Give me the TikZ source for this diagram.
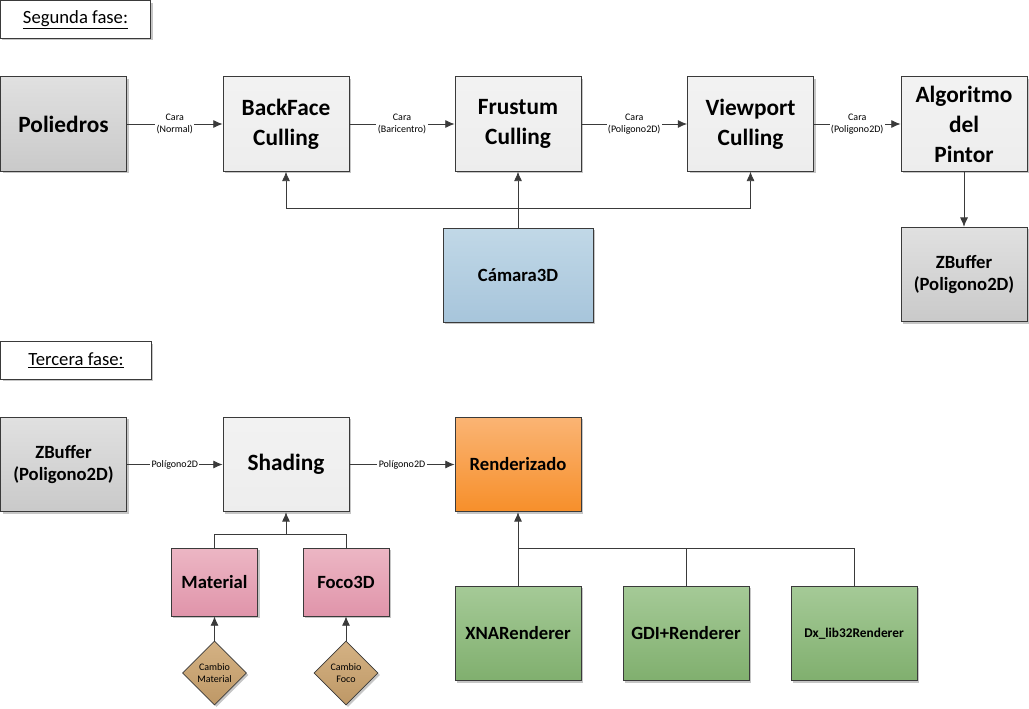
\documentclass[tikz,border=0pt]{standalone}
\usepackage{fontspec}
\setmainfont{Carlito}
\usetikzlibrary{positioning, arrows.meta, shapes.geometric, shadows}
\newcommand{\flecha}{-{Latex[length=7pt,width=6pt]}}
\newcommand{\grande}{\fontsize{17.5}{22.5}\selectfont\bfseries}
\newcommand{\medio}{\fontsize{14}{16.5}\selectfont\bfseries}
\newcommand{\chico}{\fontsize{7.5}{9.5}\selectfont}

\definecolor{linea}{HTML}{3A3A3A}
\tikzset{
  caja/.style={draw=linea, line width=0.6pt, align=center, inner sep=0pt,
    minimum width=94.5pt, minimum height=71pt,
    drop shadow={shadow xshift=1.5pt, shadow yshift=-1.5pt, opacity=0.45}},
  claro/.style={caja, top color=white!95!black, bottom color=white!93!black},
  gris/.style={caja, top color=white!88!black, bottom color=white!79!black},
  azul/.style={caja, top color={rgb,255:red,193;green,216;blue,231}, bottom color={rgb,255:red,167;green,197;blue,219}},
  naranja/.style={caja, top color={rgb,255:red,250;green,180;blue,116}, bottom color={rgb,255:red,247;green,143;blue,42}},
  rosa/.style={caja, top color={rgb,255:red,236;green,182;blue,196}, bottom color={rgb,255:red,224;green,148;blue,170}},
  verde/.style={caja, top color={rgb,255:red,165;green,202;blue,151}, bottom color={rgb,255:red,128;green,175;blue,110}},
  cambio/.style={diamond, draw=linea, line width=0.6pt, align=center, inner sep=0pt,
    minimum size=48pt, font=\chico,
    top color={rgb,255:red,212;green,178;blue,132}, bottom color={rgb,255:red,190;green,152;blue,102},
    drop shadow={shadow xshift=1.5pt, shadow yshift=-1.5pt, opacity=0.45}},
  fase/.style={draw=linea, line width=0.6pt, fill=white, inner sep=0pt,
    minimum width=113pt, minimum height=28pt, font=\fontsize{14}{16}\selectfont,
    drop shadow={shadow xshift=1.5pt, shadow yshift=-1.5pt, opacity=0.45}},
  etiqueta/.style={fill=white, inner sep=1pt, align=center, font=\chico},
  conector/.style={draw=linea, line width=0.6pt}
}

\begin{document}
\begin{tikzpicture}[x=0.75pt, y=-0.75pt]
  \useasboundingbox (0,0) rectangle (1029,708);

  % segunda fase
  \node[fase] (segunda) at (75.5,19.5) {\underline{Segunda fase:}};

  \node[gris, font=\grande] (poliedros) at (63.5,124) {Poliedros};
  \node[claro, font=\grande] (backface) at (286,124) {BackFace\\Culling};
  \node[claro, font=\grande] (frustum) at (518,124) {Frustum\\Culling};
  \node[claro, font=\grande] (viewport) at (750.5,124) {Viewport\\Culling};
  \node[claro, font=\grande] (pintor) at (964,124) {Algoritmo\\del\\Pintor};
  \node[gris, font=\medio] (zbufferA) at (964,274.5) {ZBuffer\\(Poligono2D)};
  \node[azul, font=\medio, minimum width=112.5pt, minimum height=70.5pt] (camara) at (518,275) {Cámara3D};

  \draw[conector, \flecha] (poliedros) -- node[etiqueta] {Cara\\(Normal)} (backface);
  \draw[conector, \flecha] (backface) -- node[etiqueta] {Cara\\(Baricentro)} (frustum);
  \draw[conector, \flecha] (frustum) -- node[etiqueta] {Cara\\(Poligono2D)} (viewport);
  \draw[conector, \flecha] (viewport) -- node[etiqueta] {Cara\\(Poligono2D)} (pintor);
  \draw[conector, \flecha] (pintor) -- (zbufferA);

  \coordinate (busA) at (518,208);
  \draw[conector, \flecha] (camara.north) -- (frustum.south);
  \draw[conector, \flecha] (busA) -| (backface.south);
  \draw[conector, \flecha] (busA) -| (viewport.south);

  % tercera fase
  \node[fase] (tercera) at (76,360.5) {\underline{Tercera fase:}};

  \node[gris, font=\medio] (zbufferB) at (63.5,464.5) {ZBuffer\\(Poligono2D)};
  \node[claro, font=\grande] (shading) at (286,464.5) {Shading};
  \node[naranja, font=\medio] (render) at (518,464.5) {Renderizado};

  \draw[conector, \flecha] (zbufferB) -- node[etiqueta] {Polígono2D} (shading);
  \draw[conector, \flecha] (shading) -- node[etiqueta] {Polígono2D} (render);

  \node[rosa, font=\medio, minimum width=65pt, minimum height=51pt] (material) at (214.5,582) {Material};
  \node[rosa, font=\medio, minimum width=64.5pt, minimum height=51pt] (foco) at (346,582) {Foco3D};
  \node[cambio] (cmaterial) at (214.5,673) {Cambio\\Material};
  \node[cambio] (cfoco) at (346,673) {Cambio\\Foco};

  \coordinate (busB) at (286,534);
  \draw[conector, \flecha] (busB) -- (shading.south);
  \draw[conector] (material.north) |- (busB);
  \draw[conector] (foco.north) |- (busB);
  \draw[conector, \flecha] (cmaterial.north) -- (material.south);
  \draw[conector, \flecha] (cfoco.north) -- (foco.south);

  \node[verde, font=\medio] (xna) at (518,633.5) {XNARenderer};
  \node[verde, font=\medio] (gdi) at (686,633.5) {GDI+Renderer};
  \node[verde, font=\fontsize{10}{12}\selectfont\bfseries] (dx) at (854,633.5) {Dx\_lib32Renderer};

  \coordinate (busC) at (518,548);
  \draw[conector, \flecha] (xna.north) -- (render.south);
  \draw[conector] (gdi.north) |- (busC);
  \draw[conector] (dx.north) |- (busC);
\end{tikzpicture}
\end{document}
